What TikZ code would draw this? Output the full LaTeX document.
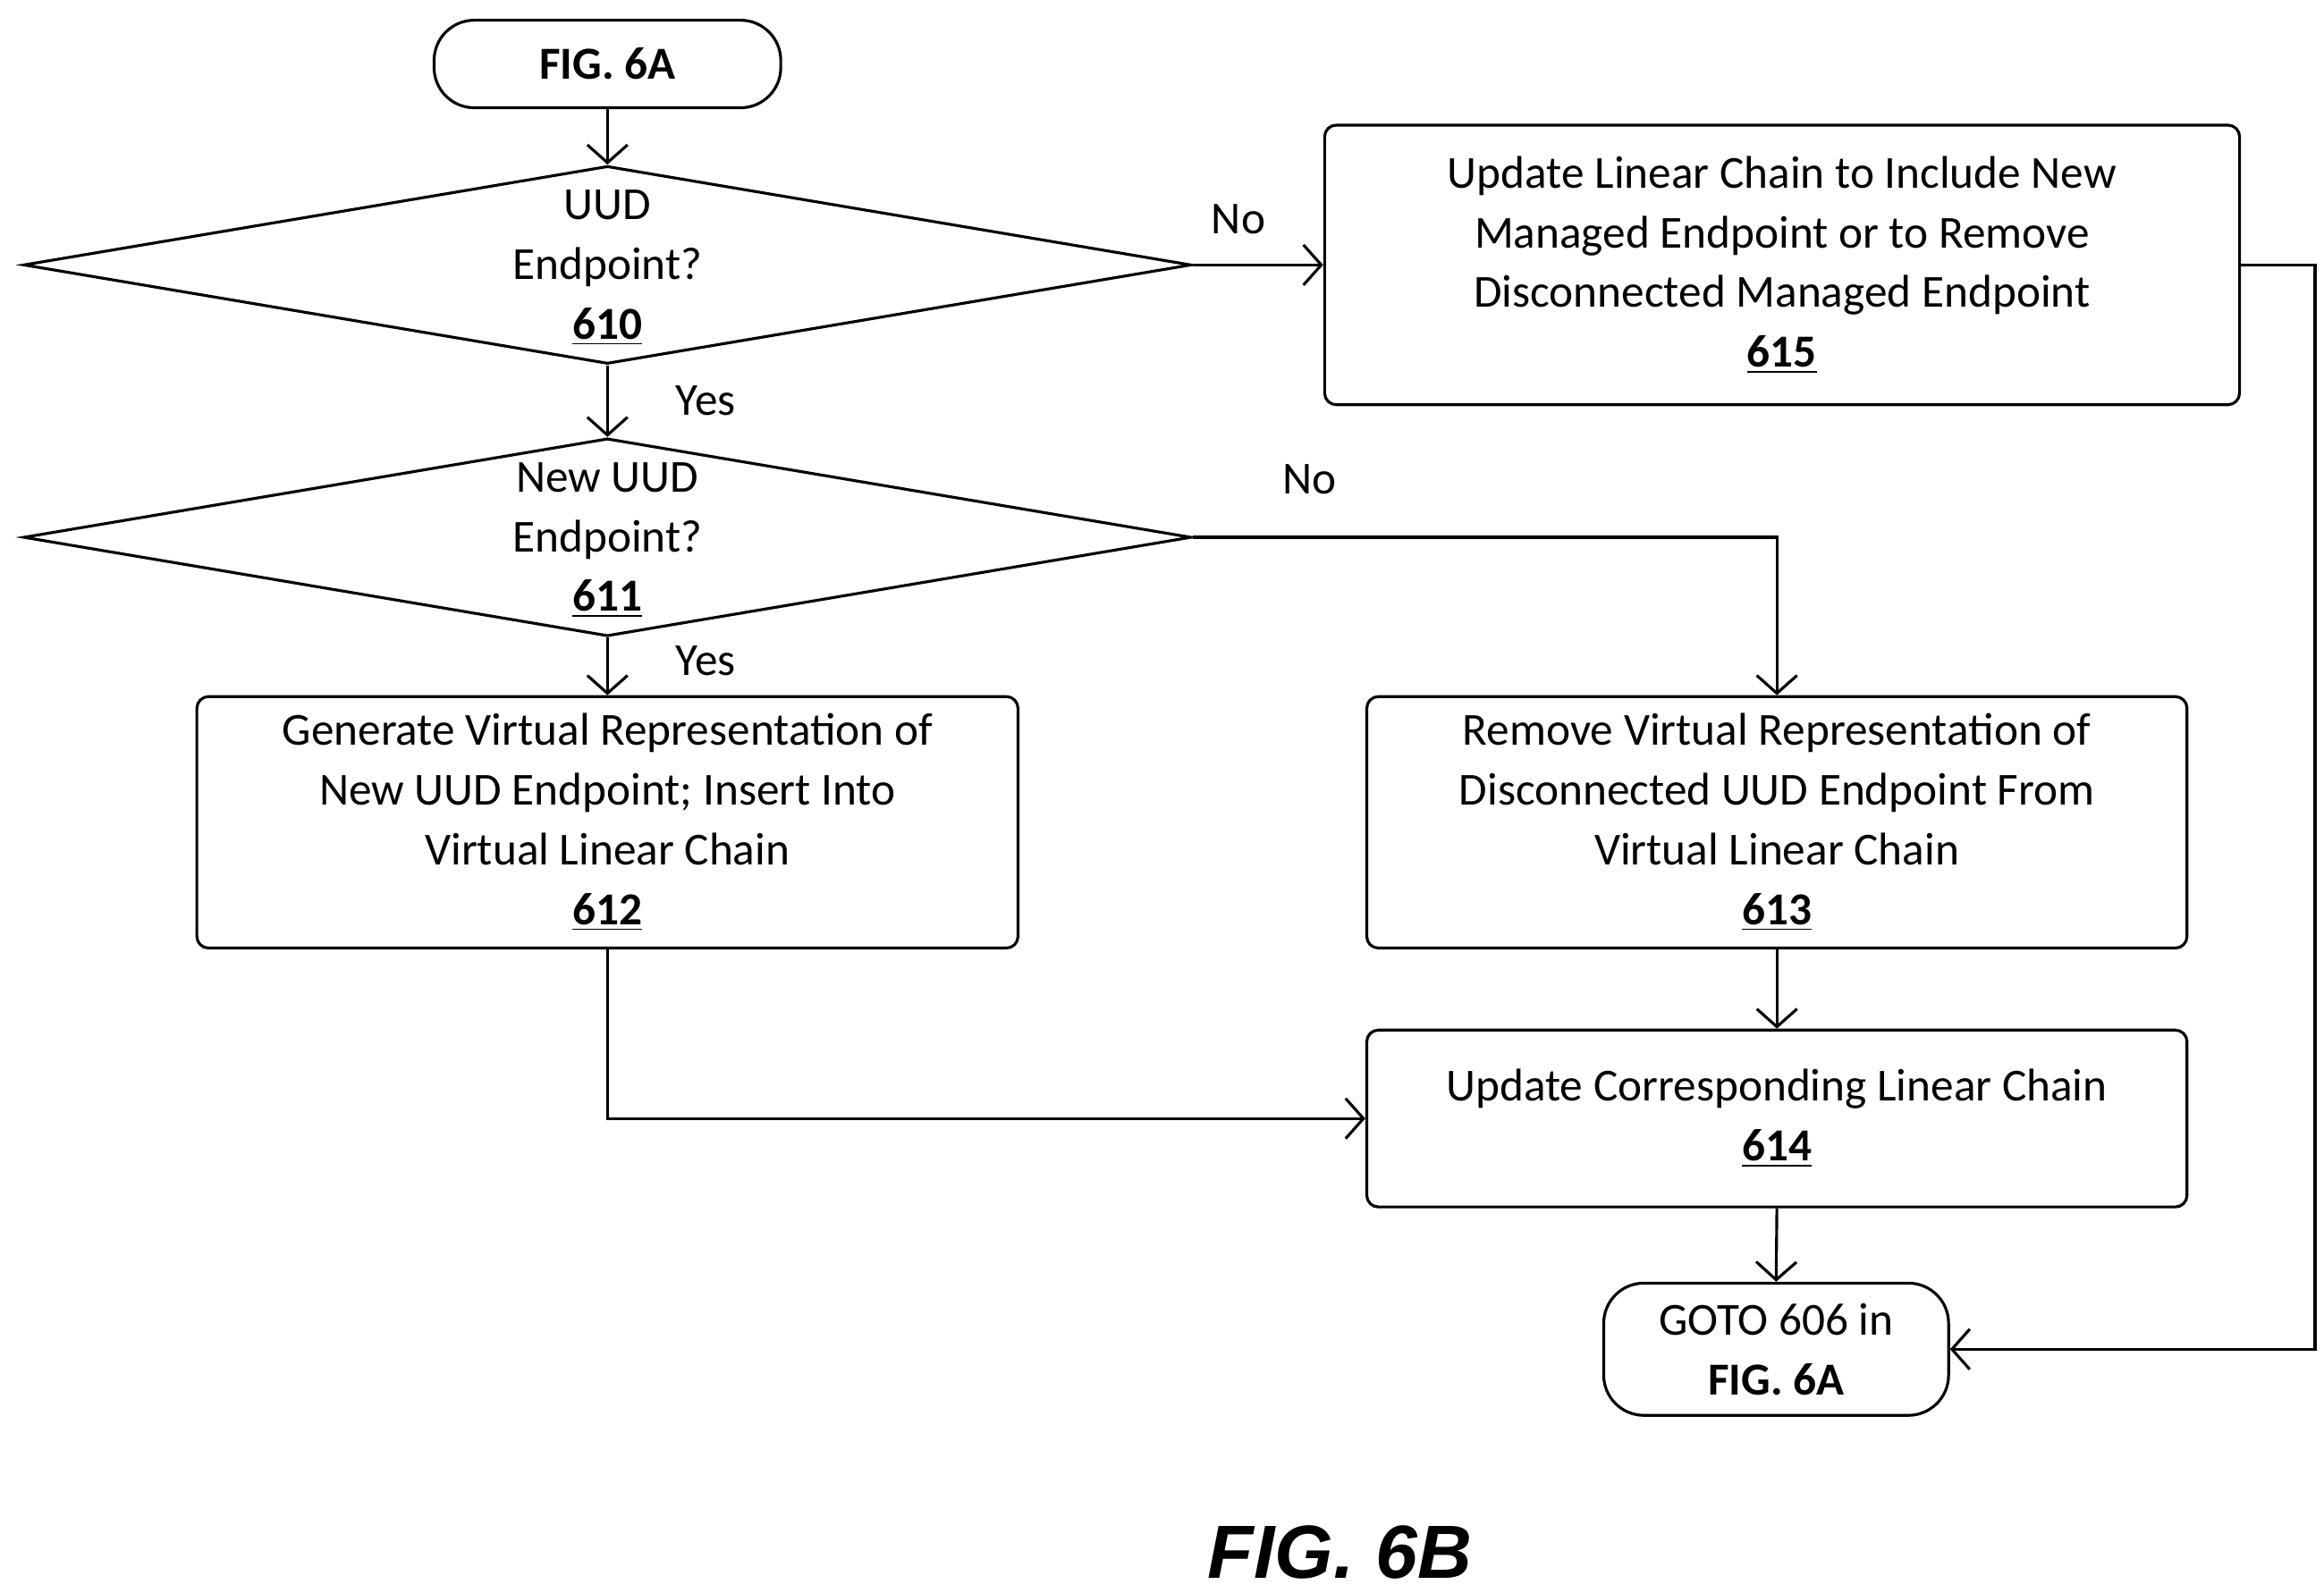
\documentclass[tikz,border=0pt]{standalone}
\usepackage{fontspec}
\setmainfont{Carlito}
\newfontfamily\figfont{Liberation Sans}
\usetikzlibrary{shapes.geometric,arrows.meta}
\begin{document}
\begin{tikzpicture}[x=0.016656cm,y=-0.016656cm,
  every node/.style={font=\fontsize{14.6}{19}\selectfont, align=center},
  line/.style={line width=0.9pt},
  arr/.style={line, -{Straight Barb[length=2mm,width=4.5mm]}},
  box/.style={draw, line width=0.9pt, rounded corners=0.13cm, inner sep=0pt},
  term/.style={draw, line width=0.9pt, rounded corners=0.45cm, inner sep=0pt},
  dia/.style={draw, diamond, line width=0.9pt, inner sep=0pt, minimum width=13.07cm, minimum height=2.215cm}]
\useasboundingbox (0,0) rectangle (1561,1070);
\node[term, minimum width=3.88cm, minimum height=0.98cm] (start) at (408,43) {\textbf{FIG. 6A}};
\node[dia] (d610) at (408,178) {};
\node (t610) at (408,180) {UUD\\Endpoint?\\\underline{\textbf{610}}};
\node[box, minimum width=10.24cm, minimum height=3.13cm] (b615) at (1197,178) {Update Linear Chain to Include New\\Managed Endpoint or to Remove\\Disconnected Managed Endpoint\\\underline{\textbf{615}}};
\node[dia] (d611) at (408,361) {};
\node (t611) at (408,363) {New UUD\\Endpoint?\\\underline{\textbf{611}}};
\node[box, minimum width=9.19cm, minimum height=2.815cm] (b612) at (408,552.5) {Generate Virtual Representation of\\New UUD Endpoint; Insert Into\\Virtual Linear Chain\\\underline{\textbf{612}}};
\node[box, minimum width=9.18cm, minimum height=2.815cm] (b613) at (1193.5,552.5) {Remove Virtual Representation of\\Disconnected UUD Endpoint From\\Virtual Linear Chain\\\underline{\textbf{613}}};
\node[box, minimum width=9.18cm, minimum height=1.98cm] (b614) at (1193.5,751.5) {Update Corresponding Linear Chain\\\underline{\textbf{614}}};
\node[term, minimum width=3.86cm, minimum height=1.48cm] (goto) at (1193,906.5) {GOTO 606 in\\\textbf{FIG. 6A}};
\node (fig) at (900,1043) {\figfont\fontsize{24}{28}\selectfont\bfseries\itshape FIG. 6B};
\coordinate (c615) at (1555,178);
\draw[arr] (start.south) -- (d610.north);
\draw[arr] (d610.east) -- node[above=6pt, pos=0.35] {No} (b615.west);
\draw[arr] (d610.south) -- node[right=18pt, pos=0.5] {Yes} (d611.north);
\draw[arr] (d611.east) -| node[above=10pt, pos=0.1] {No} (b613.north);
\draw[arr] (d611.south) -- node[right=18pt, pos=0.4] {Yes} (b612.north);
\draw[arr] (b612.south) |- (b614.west);
\draw[arr] (b613.south) -- (b614.north);
\draw[arr] (b614.south) -- (goto.north);
\draw[arr] (b615.east) -- (c615) |- (goto.east);
\end{tikzpicture}
\end{document}
